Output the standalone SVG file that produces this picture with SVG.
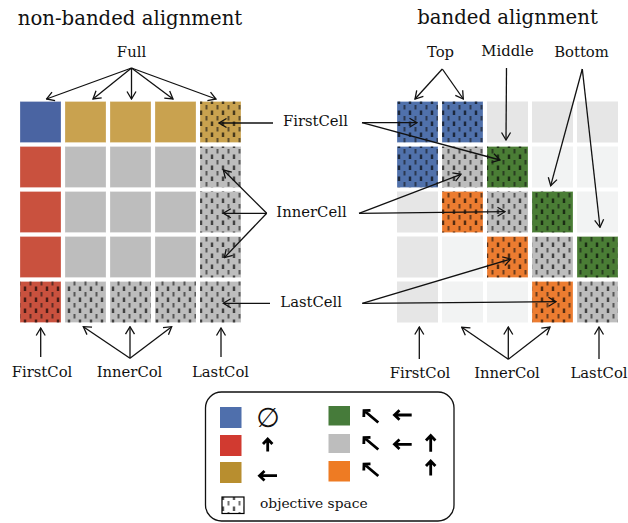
<svg xmlns="http://www.w3.org/2000/svg" width="628" height="523" viewBox="0 0 628 523">
<defs>
<style>
text{font-family:"DejaVu Serif","Liberation Serif",serif;fill:#111}
.title{font-size:19.7px}
.lbl{font-size:14.8px}
.leg{font-size:13.8px}
.cell{stroke:#ffffff;stroke-opacity:0.25;stroke-width:1}
.conn{fill:none;stroke:#111;stroke-width:1.3;marker-end:url(#ah)}
.bold{fill:none;stroke:#000;stroke-width:2.8;stroke-linejoin:miter}
.blue{fill:#4a64a2}.gold{fill:#c9a24f}.red{fill:#c9513e}.gray{fill:#bdbdbd}
.rblue{fill:#5071ab}.green{fill:#4a7d35}.orange{fill:#ec7c30}
.lg1{fill:#e6e6e6}.lg2{fill:#f2f3f3}
.h{fill:url(#hatch)}
</style>
<pattern id="hatch" patternUnits="userSpaceOnUse" width="11" height="11" x="0.5" y="0">
<line x1="2.5" y1="0.5" x2="2.5" y2="5" stroke="#000" stroke-width="1.6"/>
<line x1="8" y1="6" x2="8" y2="10.5" stroke="#111" stroke-width="1.2"/>
</pattern>
<marker id="ah" markerWidth="10" markerHeight="12" viewBox="-9 -6 10 12" refX="0" refY="0" orient="auto" markerUnits="userSpaceOnUse">
<path d="M-7.5,-4.5 L0,0 L-7.5,4.5" fill="none" stroke="#111" stroke-width="1.3"/>
</marker>
</defs>
<rect width="628" height="523" fill="#fff"/>

<g id="title-nonbanded"><text class="title" x="130" y="25" text-anchor="middle">non-banded alignment</text></g>
<g id="title-banded"><text class="title" x="507.5" y="24" text-anchor="middle">banded alignment</text></g>

<g id="left-grid">
<rect class="cell blue" x="20" y="101.5" width="41" height="41"/>
<rect class="cell gold" x="65" y="101.5" width="41" height="41"/>
<rect class="cell gold" x="110" y="101.5" width="41" height="41"/>
<rect class="cell gold" x="155" y="101.5" width="41" height="41"/>
<rect class="cell gold" x="200" y="101.5" width="41" height="41"/><rect class="h" x="200" y="101.5" width="41" height="41"/>

<rect class="cell red" x="20" y="146.5" width="41" height="41"/>
<rect class="cell gray" x="65" y="146.5" width="41" height="41"/>
<rect class="cell gray" x="110" y="146.5" width="41" height="41"/>
<rect class="cell gray" x="155" y="146.5" width="41" height="41"/>
<rect class="cell gray" x="200" y="146.5" width="41" height="41"/><rect class="h" x="200" y="146.5" width="41" height="41"/>

<rect class="cell red" x="20" y="191.5" width="41" height="41"/>
<rect class="cell gray" x="65" y="191.5" width="41" height="41"/>
<rect class="cell gray" x="110" y="191.5" width="41" height="41"/>
<rect class="cell gray" x="155" y="191.5" width="41" height="41"/>
<rect class="cell gray" x="200" y="191.5" width="41" height="41"/><rect class="h" x="200" y="191.5" width="41" height="41"/>

<rect class="cell red" x="20" y="236.5" width="41" height="41"/>
<rect class="cell gray" x="65" y="236.5" width="41" height="41"/>
<rect class="cell gray" x="110" y="236.5" width="41" height="41"/>
<rect class="cell gray" x="155" y="236.5" width="41" height="41"/>
<rect class="cell gray" x="200" y="236.5" width="41" height="41"/><rect class="h" x="200" y="236.5" width="41" height="41"/>

<rect class="cell red" x="20" y="281.5" width="41" height="41"/><rect class="h" x="20" y="281.5" width="41" height="41"/>
<rect class="cell gray" x="65" y="281.5" width="41" height="41"/><rect class="h" x="65" y="281.5" width="41" height="41"/>
<rect class="cell gray" x="110" y="281.5" width="41" height="41"/><rect class="h" x="110" y="281.5" width="41" height="41"/>
<rect class="cell gray" x="155" y="281.5" width="41" height="41"/><rect class="h" x="155" y="281.5" width="41" height="41"/>
<rect class="cell gray" x="200" y="281.5" width="41" height="41"/><rect class="h" x="200" y="281.5" width="41" height="41"/>
</g>

<g id="right-grid">
<rect class="cell rblue" x="397" y="101.5" width="41" height="41"/><rect class="h" x="397" y="101.5" width="41" height="41"/>
<rect class="cell rblue" x="442" y="101.5" width="41" height="41"/><rect class="h" x="442" y="101.5" width="41" height="41"/>
<rect class="lg1" x="487" y="101.5" width="41" height="41"/>
<rect class="lg1" x="532" y="101.5" width="41" height="41"/>
<rect class="lg1" x="577" y="101.5" width="41" height="41"/>

<rect class="cell rblue" x="397" y="146.5" width="41" height="41"/><rect class="h" x="397" y="146.5" width="41" height="41"/>
<rect class="cell gray" x="442" y="146.5" width="41" height="41"/><rect class="h" x="442" y="146.5" width="41" height="41"/>
<rect class="cell green" x="487" y="146.5" width="41" height="41"/><rect class="h" x="487" y="146.5" width="41" height="41"/>
<rect class="lg2" x="532" y="146.5" width="41" height="41"/>
<rect class="lg2" x="577" y="146.5" width="41" height="41"/>

<rect class="lg1" x="397" y="191.5" width="41" height="41"/>
<rect class="cell orange" x="442" y="191.5" width="41" height="41"/><rect class="h" x="442" y="191.5" width="41" height="41"/>
<rect class="cell gray" x="487" y="191.5" width="41" height="41"/><rect class="h" x="487" y="191.5" width="41" height="41"/>
<rect class="cell green" x="532" y="191.5" width="41" height="41"/><rect class="h" x="532" y="191.5" width="41" height="41"/>
<rect class="lg2" x="577" y="191.5" width="41" height="41"/>

<rect class="lg1" x="397" y="236.5" width="41" height="41"/>
<rect class="lg2" x="442" y="236.5" width="41" height="41"/>
<rect class="cell orange" x="487" y="236.5" width="41" height="41"/><rect class="h" x="487" y="236.5" width="41" height="41"/>
<rect class="cell gray" x="532" y="236.5" width="41" height="41"/><rect class="h" x="532" y="236.5" width="41" height="41"/>
<rect class="cell green" x="577" y="236.5" width="41" height="41"/><rect class="h" x="577" y="236.5" width="41" height="41"/>

<rect class="lg1" x="397" y="281.5" width="41" height="41"/>
<rect class="lg2" x="442" y="281.5" width="41" height="41"/>
<rect class="lg2" x="487" y="281.5" width="41" height="41"/>
<rect class="cell orange" x="532" y="281.5" width="41" height="41"/><rect class="h" x="532" y="281.5" width="41" height="41"/>
<rect class="cell gray" x="577" y="281.5" width="41" height="41"/><rect class="h" x="577" y="281.5" width="41" height="41"/>
</g>

<g id="label-full"><text class="lbl" x="131.5" y="56.5" text-anchor="middle">Full</text></g>
<g id="label-top"><text class="lbl" x="440.5" y="56.5" text-anchor="middle">Top</text></g>
<g id="label-middle"><text class="lbl" x="507.5" y="55.5" text-anchor="middle">Middle</text></g>
<g id="label-bottom"><text class="lbl" x="581.5" y="56.5" text-anchor="middle">Bottom</text></g>
<g id="label-firstcell"><text class="lbl" x="315.5" y="126" text-anchor="middle">FirstCell</text></g>
<g id="label-innercell"><text class="lbl" x="311.5" y="217" text-anchor="middle">InnerCell</text></g>
<g id="label-lastcell"><text class="lbl" x="311.2" y="307" text-anchor="middle">LastCell</text></g>
<g id="label-firstcol-l"><text class="lbl" x="42" y="377" text-anchor="middle">FirstCol</text></g>
<g id="label-innercol-l"><text class="lbl" x="129.5" y="377" text-anchor="middle">InnerCol</text></g>
<g id="label-lastcol-l"><text class="lbl" x="220.5" y="377" text-anchor="middle">LastCol</text></g>
<g id="label-firstcol-r"><text class="lbl" x="420" y="378" text-anchor="middle">FirstCol</text></g>
<g id="label-innercol-r"><text class="lbl" x="507" y="378" text-anchor="middle">InnerCol</text></g>
<g id="label-lastcol-r"><text class="lbl" x="599" y="378" text-anchor="middle">LastCol</text></g>

<g id="connectors">
<line class="conn" x1="131.5" y1="68" x2="46.5" y2="99"/>
<line class="conn" x1="131.5" y1="68" x2="93" y2="99"/>
<line class="conn" x1="131.5" y1="68" x2="131.5" y2="99"/>
<line class="conn" x1="131.5" y1="68" x2="173" y2="99"/>
<line class="conn" x1="131.5" y1="68" x2="216" y2="99"/>

<line class="conn" x1="273" y1="123" x2="219" y2="123"/>
<line class="conn" x1="362" y1="122.7" x2="417" y2="122.7"/>
<line class="conn" x1="362" y1="122.7" x2="500" y2="160"/>

<line class="conn" x1="266.7" y1="213.3" x2="223.3" y2="170"/>
<line class="conn" x1="266.7" y1="213.3" x2="223.3" y2="213.3"/>
<line class="conn" x1="266.7" y1="213.3" x2="224.3" y2="257.7"/>
<line class="conn" x1="359" y1="213.3" x2="461" y2="174.3"/>
<line class="conn" x1="359" y1="213.3" x2="505" y2="211.7"/>

<line class="conn" x1="270" y1="303.3" x2="223.3" y2="303.3"/>
<line class="conn" x1="362.3" y1="303.3" x2="510.7" y2="259"/>
<line class="conn" x1="362.3" y1="303.3" x2="556" y2="301.7"/>

<line class="conn" x1="442.3" y1="69" x2="415" y2="99"/>
<line class="conn" x1="442.3" y1="69" x2="463.3" y2="99"/>
<line class="conn" x1="506.5" y1="68" x2="506" y2="140"/>
<line class="conn" x1="582.3" y1="69" x2="550.7" y2="185.7"/>
<line class="conn" x1="582.3" y1="69" x2="600" y2="227.3"/>

<line class="conn" x1="40.7" y1="357" x2="40.7" y2="328"/>
<line class="conn" x1="130" y1="358.3" x2="83.3" y2="326.7"/>
<line class="conn" x1="130" y1="358.3" x2="130" y2="326.7"/>
<line class="conn" x1="130" y1="358.3" x2="171.7" y2="326.7"/>
<line class="conn" x1="221" y1="357" x2="221" y2="328"/>

<line class="conn" x1="419.3" y1="359" x2="419.3" y2="327"/>
<line class="conn" x1="508.3" y1="359.3" x2="461.7" y2="327.3"/>
<line class="conn" x1="508.3" y1="359.3" x2="508.3" y2="327"/>
<line class="conn" x1="508.3" y1="359.3" x2="550" y2="327"/>
<line class="conn" x1="599" y1="359" x2="599" y2="327"/>
</g>

<g id="legend">
<rect x="205.5" y="392" width="248.5" height="129" rx="16" fill="#fff" stroke="#111" stroke-width="1.3"/>
<rect x="220" y="407" width="21.5" height="21" fill="#4f6fac"/>
<rect x="220" y="435" width="21.5" height="21" fill="#d13a30"/>
<rect x="220" y="462" width="21.5" height="21" fill="#b88e2f"/>
<rect x="328.5" y="406" width="21.5" height="19.5" fill="#467b3a"/>
<rect x="328.5" y="434" width="21.5" height="19" fill="#bdbdbd"/>
<rect x="328.5" y="461" width="21.5" height="20.5" fill="#ee7b23"/>
<text x="268" y="426.5" text-anchor="middle" style="font-family:'DejaVu Sans',sans-serif;font-size:27px">∅</text>
<path class="bold" d="M267.7,451.5 V439.5 M263,444 L267.7,439 L272.4,444"/>
<path class="bold" d="M277,475.7 H259.5 M264.5,471 L259.5,475.7 L264.5,480.4"/>
<path class="bold" d="M378.3,422.5 L364,410.5 M363.8,417 L364,410.5 L370.5,410.3"/>
<path class="bold" d="M411.7,415 H394.5 M399.5,410.3 L394.5,415 L399.5,419.7"/>
<path class="bold" d="M378.3,449.5 L364,437.5 M363.8,444 L364,437.5 L370.5,437.3"/>
<path class="bold" d="M411.7,444.3 H394.5 M399.5,439.6 L394.5,444.3 L399.5,449"/>
<path class="bold" d="M430.7,451.7 V435.5 M426,440.5 L430.7,435.5 L435.4,440.5"/>
<path class="bold" d="M378.3,476 L364,464 M363.8,470.5 L364,464 L370.5,463.8"/>
<path class="bold" d="M430.7,475.5 V461 M426,466 L430.7,461 L435.4,466"/>
<rect x="222" y="497" width="22" height="16.5" fill="#fff"/>
<rect x="222" y="497" width="22" height="16.5" fill="url(#hatch)"/>
<rect x="222" y="497" width="22" height="16.5" fill="none" stroke="#000" stroke-width="1.2"/>
<text class="leg" x="260" y="507.5">objective space</text>
</g>
</svg>
